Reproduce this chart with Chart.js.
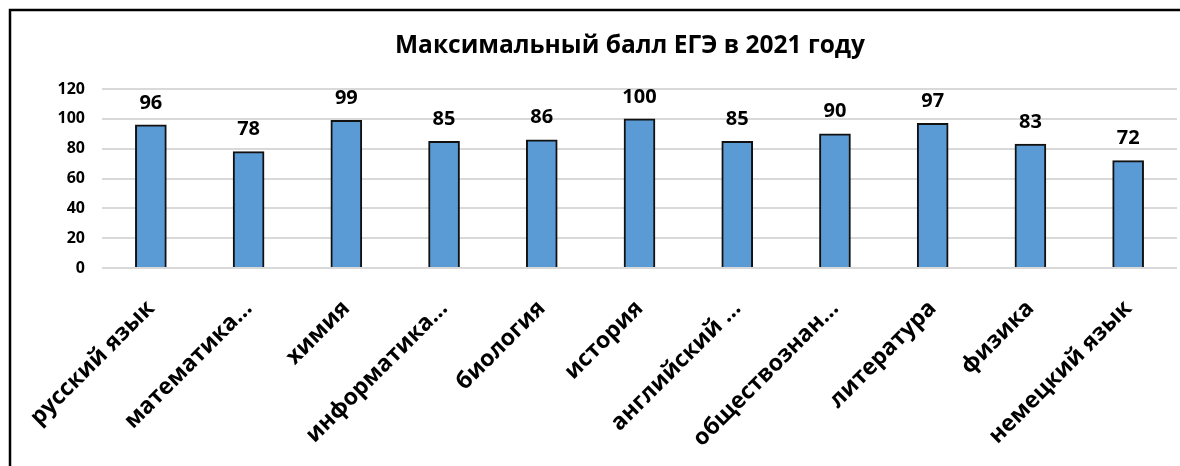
<!DOCTYPE html>
<html>
<head>
<meta charset="utf-8">
<script src="https://cdn.jsdelivr.net/npm/chart.js@4/dist/chart.umd.min.js"></script>
<style>
  body { margin: 0; background: #fff; }
  #wrap { width: 1180px; height: 466px; position: relative; }
</style>
</head>
<body>
<div id="wrap"><canvas id="myChart" width="1180" height="466"></canvas></div>
<script>
const chartTitle = 'Максимальный балл ЕГЭ в 2021 году';

const subjects = [
    'русский язык',
    'математика…',
    'химия',
    'информатика…',
    'биология',
    'история',
    'английский …',
    'обществознан…',
    'литература',
    'физика',
    'немецкий язык',
];

const maxScores = [96, 78, 99, 85, 86, 100, 85, 90, 97, 83, 72];

const yTicks = [0, 20, 40, 60, 80, 100, 120];

const FONT = '"Open Sans", "Noto Sans", sans-serif';

// рамка и заголовок рисуем сами
const framePlugin = {
    id: 'frame',
    afterDraw(chart) {
        const ctx = chart.ctx;
        ctx.save();
        ctx.strokeStyle = '#000';
        ctx.lineWidth = 2.5;
        ctx.beginPath();
        ctx.moveTo(10, 470);
        ctx.lineTo(10, 10);
        ctx.lineTo(1185, 10);
        ctx.stroke();

        ctx.fillStyle = '#000';
        ctx.font = 'bold 24.5px ' + FONT;
        ctx.textAlign = 'center';
        ctx.textBaseline = 'middle';
        ctx.fillText(chartTitle, 630, 46);
        ctx.restore();
    }
};

// подписи значений над столбиками
const valueLabels = {
    id: 'valueLabels',
    afterDatasetsDraw(chart) {
        const ctx = chart.ctx;
        const meta = chart.getDatasetMeta(0);
        ctx.save();
        ctx.fillStyle = '#000';
        ctx.font = 'bold 20px ' + FONT;
        ctx.textAlign = 'center';
        ctx.textBaseline = 'middle';
        meta.data.forEach((bar, i) => {
            ctx.fillText(String(maxScores[i]), bar.x, bar.y - 22);
        });
        ctx.restore();
    }
};

const myChart = new Chart(document.getElementById('myChart'), {
    type: 'bar',
    data: {
        labels: subjects,
        datasets: [{
            data: maxScores,
            backgroundColor: '#5b9bd5',
            borderColor: '#111',
            borderWidth: 2,
            barThickness: 31,
        }]
    },
    options: {
        responsive: false,
        animation: false,
        layout: {
            padding: { top: 89, right: 3, left: 0, bottom: 0 }
        },
        plugins: {
            legend: { display: false },
            title: { display: false },
            tooltip: { enabled: false }
        },
        scales: {
            x: {
                grid: { display: false },
                border: { display: false },
                ticks: {
                    color: '#000',
                    font: { family: FONT, size: 23, weight: 'bold' },
                    minRotation: 45,
                    maxRotation: 45,
                    autoSkip: false,
                    padding: 19
                },
                afterFit(scale) { scale.height = 198; }
            },
            y: {
                min: 0,
                max: 120,
                afterBuildTicks(scale) {
                    scale.ticks = yTicks.map(v => ({ value: v }));
                },
                grid: { color: '#d9d9d9', lineWidth: 2, drawTicks: false },
                border: { display: false },
                ticks: {
                    color: '#000',
                    font: { family: FONT, size: 16, weight: 'bold' },
                    padding: 17
                },
                afterFit(scale) { scale.width = 102; }
            }
        }
    },
    plugins: [framePlugin, valueLabels]
});
</script>
</body>
</html>
